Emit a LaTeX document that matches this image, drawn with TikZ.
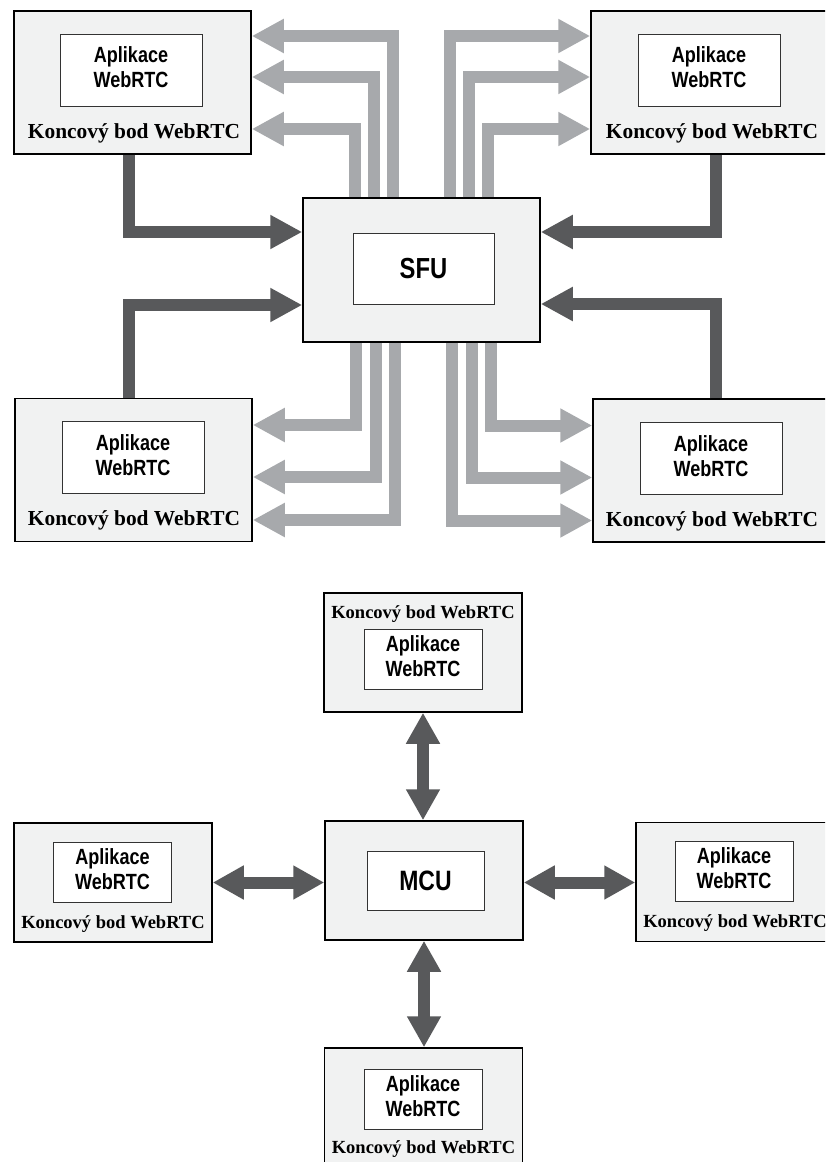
\documentclass[tikz,border=0pt]{standalone}
\usepackage{fontspec}
\usepackage{graphicx}
\setmainfont{Liberation Serif}
\setsansfont{Liberation Sans}
\usetikzlibrary{arrows.meta}

\definecolor{boxfill}{HTML}{F1F2F2}
\definecolor{darkflow}{HTML}{58595B}
\definecolor{lightflow}{HTML}{A7A9AC}

% narrow sans text for the inner boxes
\newcommand{\condsf}[2]{\raisebox{-3pt}{\scalebox{0.82}[1]{\fontsize{#1}{25}\selectfont\sffamily\bfseries
  \begin{tabular}{@{}c@{}}#2\end{tabular}}}}
\newcommand{\appweb}{\condsf{22}{Aplikace\\WebRTC}}

\tikzset{
  endbig/.style={draw=black, line width=1.5pt, fill=boxfill, inner sep=0pt,
    minimum width=237pt, minimum height=143pt},
  endsmall/.style={draw=black, line width=1.5pt, fill=boxfill, inner sep=0pt,
    minimum width=198pt, minimum height=119pt},
  appbig/.style={draw=black!80, line width=0.8pt, fill=white, inner sep=0pt,
    minimum width=142pt, minimum height=72pt},
  appsmall/.style={draw=black!80, line width=0.8pt, fill=white, inner sep=0pt,
    minimum width=118pt, minimum height=60pt},
  lblbig/.style={inner sep=0pt, anchor=base, font=\fontsize{21.4}{25}\selectfont\bfseries},
  lblsmall/.style={inner sep=0pt, anchor=base, font=\fontsize{18.5}{22}\selectfont\bfseries},
  darkline/.style={draw=darkflow, line width=12pt, -{Triangle[length=32pt,width=32pt]}},
  lightline/.style={draw=lightflow, line width=12pt, -{Triangle[length=32pt,width=32pt]}},
  twoway/.style={draw=darkflow, line width=12pt,
    {Triangle[length=31pt,width=32pt]}-{Triangle[length=31pt,width=32pt]}}
}

\begin{document}
\begin{tikzpicture}[x=1pt,y=-1pt]
\useasboundingbox (0,0) rectangle (825,1162);
\clip (0,0) rectangle (825,1162);

% SFU
\node[endbig] (tl) at (132.5,82.5) {};
\node[endbig] (tr) at (709.5,82.5) {};
\node[endbig] (bl) at (133.5,470) {};
\node[endbig] (br) at (711.5,470.5) {};
\node[endbig, minimum height=144pt] (sfu) at (421.5,270) {};

\node[appbig] (tlapp) at (131,70) {\appweb};
\node[appbig] (trapp) at (709,70) {\appweb};
\node[appbig] (blapp) at (133,457.5) {\appweb};
\node[appbig] (brapp) at (711,458.5) {\appweb};
\node[appbig, minimum width=141pt, minimum height=71pt] (sfuin) at (423.5,268.5)
  {\scalebox{0.82}[1]{\fontsize{29}{30}\selectfont\sffamily\bfseries SFU}};

\node[lblbig] (tllbl) at (134,138) {Koncový bod WebRTC};
\node[lblbig] (trlbl) at (712,138) {Koncový bod WebRTC};
\node[lblbig] (bllbl) at (134,525) {Koncový bod WebRTC};
\node[lblbig] (brlbl) at (712,526) {Koncový bod WebRTC};

\foreach \dx/\dy in {28.5/46.5, 47.5/5.5, 66.5/-46.5}{
  \draw[lightline] ([xshift=-\dx pt]sfu.north) |- ([yshift=\dy pt]tl.east);
  \draw[lightline] ([xshift=\dx pt]sfu.north) |- ([yshift=\dy pt]tr.west);
}
\foreach \lx/\rx/\dy in {65.5/69.5/45, 45.5/50.5/-7, 26.5/30.5/-50}{
  \draw[lightline] ([xshift=-\lx pt]sfu.south) |- ([yshift=\dy pt]bl.east);
  \draw[lightline] ([xshift=\rx pt]sfu.south) |- ([yshift=\dy pt]br.west);
}

\draw[darkline] ([xshift=-3.5pt]tl.south) |- ([yshift=38pt]sfu.west);
\draw[darkline] ([xshift=6.5pt]tr.south) |- ([yshift=38pt]sfu.east);
\draw[darkline] ([xshift=-4.5pt]bl.north) |- ([yshift=-35pt]sfu.west);
\draw[darkline] ([xshift=4.5pt]br.north) |- ([yshift=-34pt]sfu.east);

% MCU
\node[endsmall] (top) at (423,652.5) {};
\node[endsmall] (mcu) at (424,880.5) {};
\node[endsmall] (left) at (113,882.5) {};
\node[endsmall] (right) at (735,882) {};
\node[endsmall] (bottom) at (423.5,1107.5) {};

\node[appsmall] (topapp) at (423,659) {\appweb};
\node[appsmall, minimum width=117pt, minimum height=59pt] (mcuin) at (425.5,880.5)
  {\scalebox{0.82}[1]{\fontsize{28}{30}\selectfont\sffamily\bfseries MCU}};
\node[appsmall] (leftapp) at (112.5,872) {\appweb};
\node[appsmall] (rightapp) at (734,871) {\appweb};
\node[appsmall] (bottomapp) at (423,1099) {\appweb};

\node[lblsmall] (toplbl) at (423,618) {Koncový bod WebRTC};
\node[lblsmall] (leftlbl) at (113,928) {Koncový bod WebRTC};
\node[lblsmall] (rightlbl) at (735,927) {Koncový bod WebRTC};
\node[lblsmall] (bottomlbl) at (423.5,1153) {Koncový bod WebRTC};

\draw[twoway] (top.south) -- (top.south |- mcu.north);
\draw[twoway] (mcu.south) -- (mcu.south |- bottom.north);
\draw[twoway] (left.east) -- (left.east -| mcu.west);
\draw[twoway] (mcu.east |- left.east) -- (mcu.east |- left.east -| right.west);
\end{tikzpicture}
\end{document}
